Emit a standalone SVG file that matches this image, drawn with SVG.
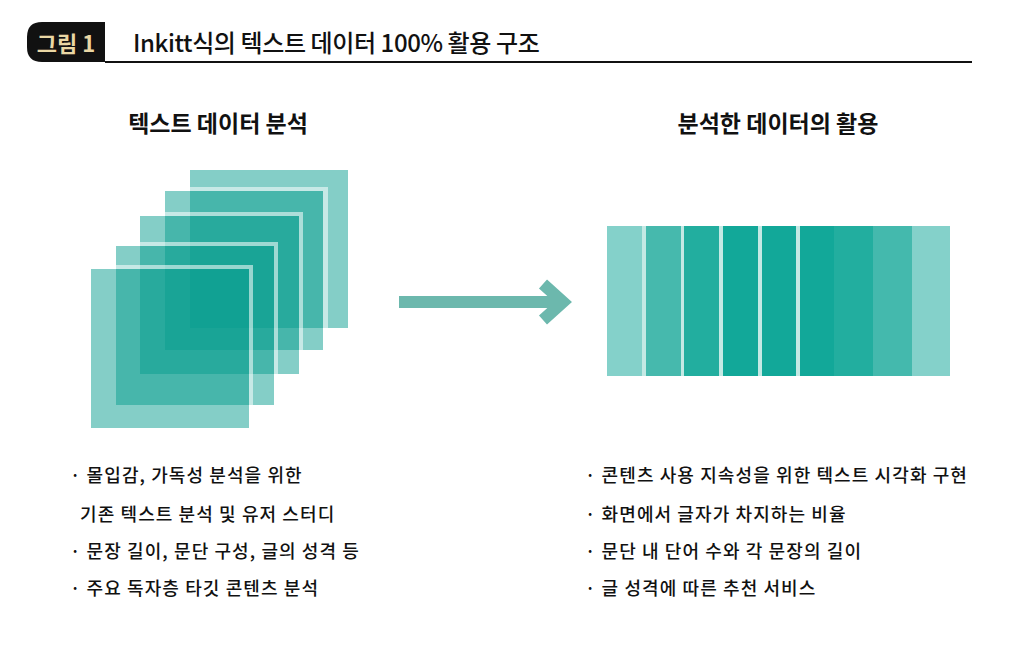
<svg xmlns="http://www.w3.org/2000/svg" width="1016" height="655" viewBox="0 0 1016 655">
<style>
text{font-family:"Noto Sans CJK KR","Noto Sans",sans-serif;fill:#111}
.h{font-size:23px;font-weight:bold}
.b{font-size:18px;font-weight:500;letter-spacing:1.1px}
.sq{fill:#0a9e8f;fill-opacity:0.5}
.st{fill:#fff;fill-opacity:0.55}
</style>
<rect width="1016" height="655" fill="#fff"/>
<g id="header">
<path d="M42 22 H105 V62 H42 Q27 62 27 47 V37 Q27 22 42 22 Z" fill="#111"/>
<text x="66" y="52" text-anchor="middle" style="font-size:22px;font-weight:bold;fill:#ead7a4">그림 1</text>
<line x1="105" y1="62" x2="972" y2="62" stroke="#111" stroke-width="2"/>
<text x="133" y="52" style="font-size:24px;font-weight:500;letter-spacing:-0.4px">Inkitt식의 텍스트 데이터 100% 활용 구조</text>
</g>
<g id="left">
<text class="h" x="218" y="132" text-anchor="middle">텍스트 데이터 분석</text>
<rect class="sq" x="190" y="170" width="158" height="158"/>
<rect class="sq" x="165" y="191" width="158" height="159"/>
<path class="st" d="M165 187 H328 V350 H323 V191 H165 Z"/>
<rect class="sq" x="140" y="216" width="159" height="158"/>
<path class="st" d="M140 212 H303 V374 H299 V216 H140 Z"/>
<rect class="sq" x="116" y="246" width="158" height="159"/>
<path class="st" d="M116 242 H278 V405 H274 V246 H116 Z"/>
<rect class="sq" x="91" y="269" width="158" height="159"/>
<path class="st" d="M91 265 H253 V428 H249 V269 H91 Z"/>
<text class="b" x="70" y="482">· 몰입감, 가독성 분석을 위한</text>
<text class="b" x="80" y="521">기존 텍스트 분석 및 유저 스터디</text>
<text class="b" x="70" y="558">· 문장 길이, 문단 구성, 글의 성격 등</text>
<text class="b" x="70" y="595">· 주요 독자층 타깃 콘텐츠 분석</text>
</g>
<g id="connectors">
<line x1="399" y1="302" x2="562" y2="302" stroke="#6cb8ad" stroke-width="12"/>
<polyline points="543,284 563,302 543,320" fill="none" stroke="#6cb8ad" stroke-width="12"/>
</g>
<g id="right">
<text class="h" x="778" y="132" text-anchor="middle">분석한 데이터의 활용</text>
<rect x="607" y="226" width="343" height="150" fill="#c4e9e4"/>
<rect x="607" y="226" width="35" height="150" fill="#84d1ca"/>
<rect x="646" y="226" width="35" height="150" fill="#46b9ad"/>
<rect x="684" y="226" width="35" height="150" fill="#22ae9f"/>
<rect x="723" y="226" width="35" height="150" fill="#12a899"/>
<rect x="762" y="226" width="34" height="150" fill="#12a899"/>
<rect x="800" y="226" width="34" height="150" fill="#12a899"/>
<rect x="834" y="226" width="39" height="150" fill="#22ae9f"/>
<rect x="873" y="226" width="39" height="150" fill="#44b9ad"/>
<rect x="912" y="226" width="38" height="150" fill="#84d1ca"/>
<text class="b" x="585" y="482">· 콘텐츠 사용 지속성을 위한 텍스트 시각화 구현</text>
<text class="b" x="585" y="521">· 화면에서 글자가 차지하는 비율</text>
<text class="b" x="585" y="558">· 문단 내 단어 수와 각 문장의 길이</text>
<text class="b" x="585" y="595">· 글 성격에 따른 추천 서비스</text>
</g>
</svg>
